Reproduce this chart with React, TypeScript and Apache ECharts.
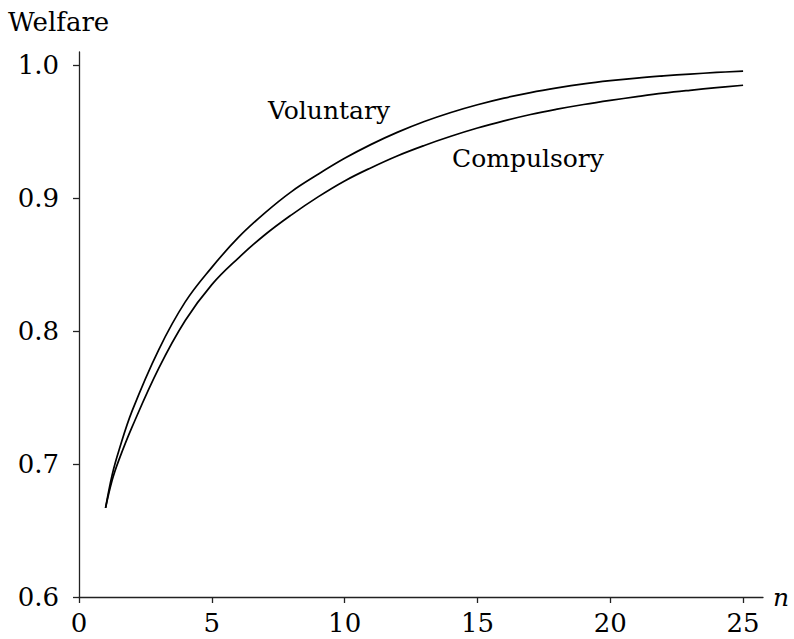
import React, { useEffect, useRef } from "react";
import * as echarts from "echarts";

const nValues = [1, 1.25, 1.5, 2, 3, 4, 5, 6, 7, 8, 9, 10, 11, 12, 13, 14, 15, 16, 17, 18, 19, 20, 21, 22, 23, 24, 25];
const voluntary = [0.667, 0.692, 0.71, 0.74, 0.786, 0.822, 0.848, 0.8705, 0.889, 0.905, 0.918, 0.93, 0.9405, 0.9497, 0.9577, 0.9645, 0.9703, 0.9753, 0.9795, 0.983, 0.986, 0.9884, 0.9904, 0.992, 0.9934, 0.9946, 0.9956];
const compulsory = [0.667, 0.688, 0.703, 0.728, 0.772, 0.808, 0.835, 0.855, 0.8725, 0.8875, 0.901, 0.913, 0.923, 0.932, 0.9397, 0.9466, 0.9528, 0.9582, 0.963, 0.967, 0.9705, 0.9736, 0.9764, 0.979, 0.9812, 0.9832, 0.985];
const xTicks = [0, 5, 10, 15, 20, 25];
const yTicks = [0.6, 0.7, 0.8, 0.9, 1.0];

const FONT = "DejaVu Serif";
const FS = 25;

export default function App() {
  const ref = useRef<HTMLDivElement>(null);
  useEffect(() => {
    if (!ref.current) return;
    const chart = echarts.init(ref.current, null, { renderer: "svg" });
    const axisLine = { show: true, lineStyle: { color: "#222", width: 1.3 } };
    chart.setOption({
      animation: false,
      backgroundColor: "#fff",
      textStyle: { fontFamily: FONT },
      grid: { left: 79, right: 31, top: 52, bottom: 42, containLabel: false },
      xAxis: {
        type: "value",
        min: 0,
        max: 25.75,
        axisLine,
        axisTick: { show: true, length: 6, customValues: xTicks, lineStyle: { color: "#222", width: 1.3 } },
        axisLabel: {
          customValues: xTicks,
          margin: 13,
          color: "#000",
          fontFamily: FONT,
          fontSize: 26,
          formatter: (v: number) => String(v),
        },
        splitLine: { show: false },
      },
      yAxis: {
        type: "value",
        min: 0.6,
        max: 1.01,
        axisLine,
        axisTick: { show: true, length: 6, customValues: yTicks, lineStyle: { color: "#222", width: 1.3 } },
        axisLabel: {
          customValues: yTicks,
          margin: 20,
          color: "#000",
          fontFamily: FONT,
          fontSize: 26,
          formatter: (v: number) => v.toFixed(1),
        },
        splitLine: { show: false },
      },
      graphic: [
        { type: "text", left: 8, top: 9, style: { text: "Welfare", fontFamily: FONT, fontSize: 26, fill: "#000" } },
        { type: "text", x: 773, y: 597, style: { text: "n", fontFamily: FONT, fontStyle: "italic", fontSize: FS, fill: "#000", verticalAlign: "middle" } },
        { type: "text", x: 268, y: 110, style: { text: "Voluntary", fontFamily: FONT, fontSize: FS, fill: "#000", verticalAlign: "middle" } },
        { type: "text", x: 452, y: 158, style: { text: "Compulsory", fontFamily: FONT, fontSize: FS, fill: "#000", verticalAlign: "middle" } },
      ],
      series: [
        {
          name: "Voluntary",
          type: "line",
          data: nValues.map((n, i) => [n, voluntary[i]]),
          showSymbol: false,
          smooth: 0.4,
          lineStyle: { color: "#000", width: 1.7 },
        },
        {
          name: "Compulsory",
          type: "line",
          data: nValues.map((n, i) => [n, compulsory[i]]),
          showSymbol: false,
          smooth: 0.4,
          lineStyle: { color: "#000", width: 1.7 },
        },
      ],
    });
    return () => chart.dispose();
  }, []);
  return <div ref={ref} style={{ position: "absolute", left: 0, top: 0, width: 794, height: 639 }} />;
}
